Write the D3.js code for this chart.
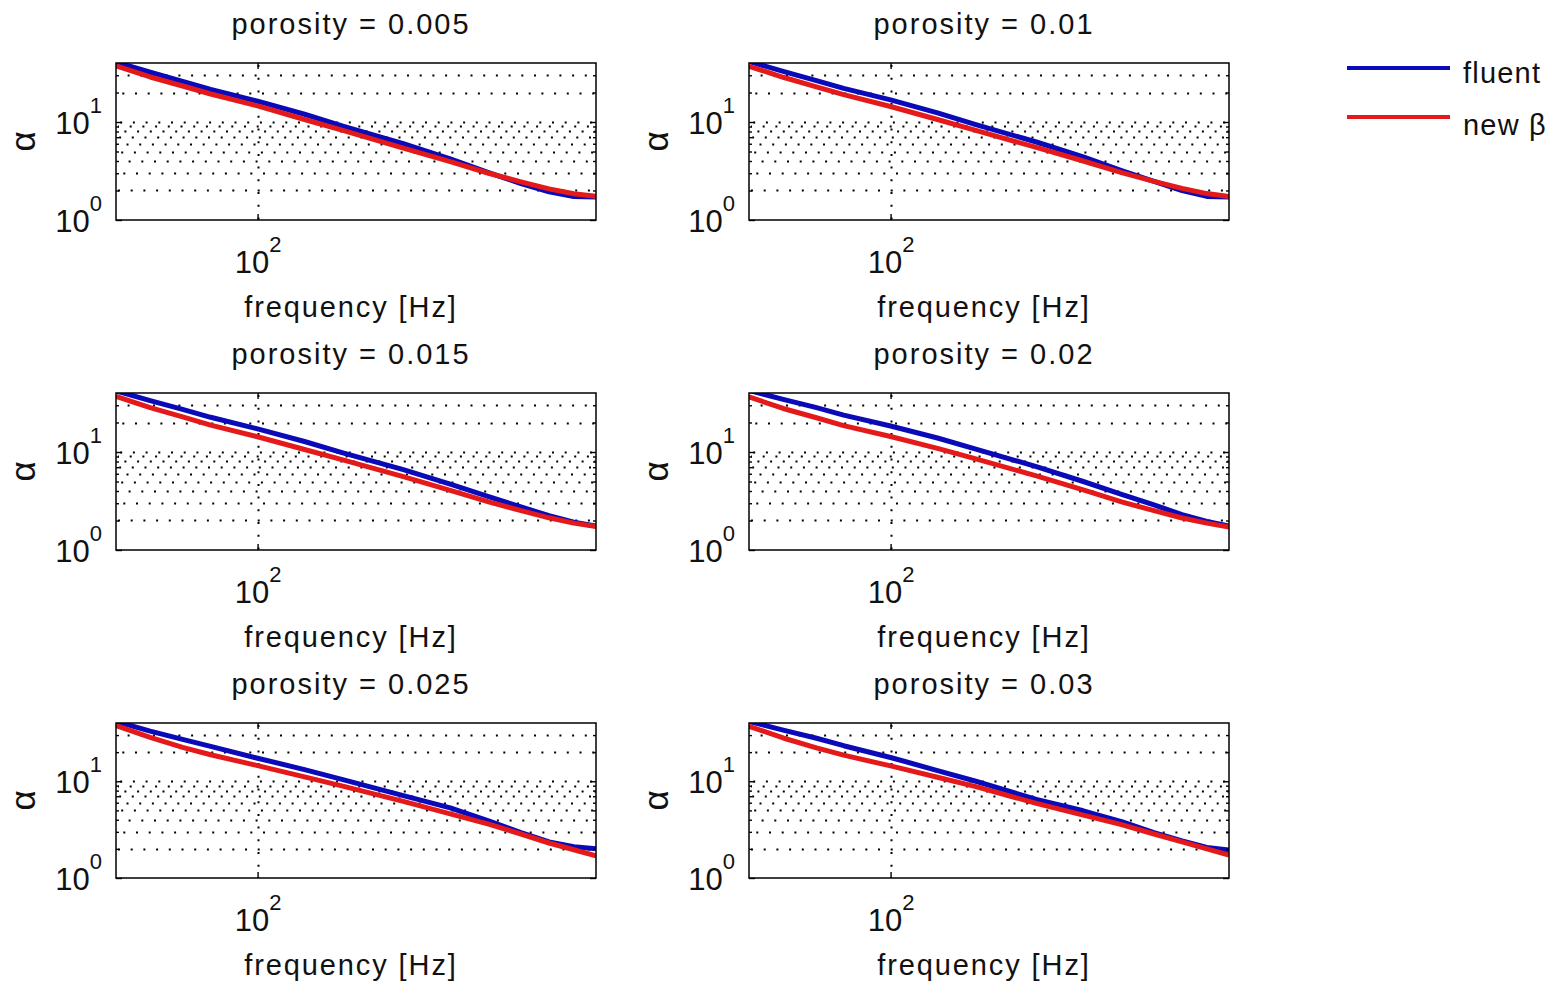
<!DOCTYPE html>
<html>
<head>
<meta charset="utf-8">
<script src="https://cdn.jsdelivr.net/npm/d3@7"></script>
<style>
  html, body { margin: 0; padding: 0; background: #fff; }
  svg { display: block; }
  text { font-family: "Liberation Sans", Arial, Helvetica, sans-serif; fill: #111; }
</style>
</head>
<body>
<svg id="fig" width="1562" height="986"></svg>
<script>
// frequency samples [Hz] shared by all panels
const frequency = [51, 60, 70, 80, 100, 125, 150, 200, 250, 300, 350, 400, 450, 500];

// absorption alpha per porosity: CFD result (fluent) and model with new beta
const fluent005  = [40.9, 32.2, 26.0, 21.5, 16.3, 12.0, 9.1, 6.0, 4.2, 3.05, 2.35, 1.94, 1.74, 1.72];
const newBeta005 = [37.3, 28.8, 23.3, 19.3, 14.6, 10.6, 8.2, 5.4, 3.95, 3.0, 2.45, 2.08, 1.85, 1.75];

const fluent010  = [41.5, 32.8, 26.6, 22.0, 16.8, 12.4, 9.4, 6.25, 4.4, 3.2, 2.48, 2.0, 1.74, 1.72];
const newBeta010 = [37.0, 28.6, 23.0, 19.0, 14.4, 10.6, 8.2, 5.5, 4.0, 3.05, 2.48, 2.1, 1.86, 1.74];

const fluent015  = [42.0, 33.5, 27.2, 22.6, 17.2, 12.8, 9.8, 6.6, 4.7, 3.5, 2.75, 2.24, 1.92, 1.76];
const newBeta015 = [37.0, 28.4, 22.8, 18.8, 14.3, 10.6, 8.3, 5.6, 4.05, 3.1, 2.52, 2.13, 1.88, 1.74];

const fluent020  = [42.5, 34.5, 28.5, 23.8, 18.4, 13.9, 10.7, 7.1, 5.0, 3.7, 2.88, 2.3, 1.96, 1.75];
const newBeta020 = [36.5, 27.8, 22.5, 18.6, 14.4, 10.9, 8.5, 5.7, 4.1, 3.1, 2.52, 2.12, 1.88, 1.72];

const fluent025  = [41.5, 33.0, 27.1, 22.9, 17.3, 13.2, 10.4, 7.1, 5.3, 3.9, 2.95, 2.36, 2.1, 2.0];
const newBeta025 = [37.5, 28.4, 22.4, 18.8, 14.5, 11.1, 8.9, 6.2, 4.6, 3.6, 2.85, 2.3, 1.96, 1.69];

const fluent030  = [41.5, 33.8, 28.0, 23.3, 17.6, 12.9, 10.0, 6.5, 4.95, 3.82, 2.95, 2.42, 2.07, 1.95];
const newBeta030 = [37.0, 28.0, 22.3, 18.6, 14.4, 11.0, 8.8, 5.9, 4.47, 3.56, 2.85, 2.36, 2.0, 1.72];

const porosity = ["0.005", "0.01", "0.015", "0.02", "0.025", "0.03"];
const fluentSeries = [fluent005, fluent010, fluent015, fluent020, fluent025, fluent030];
const newBetaSeries = [newBeta005, newBeta010, newBeta015, newBeta020, newBeta025, newBeta030];

const seriesNames = ["fluent", "new \u03B2"];
const alphaLimits = [1, 40];
const yMajorTicks = [1, 10];
const yMinorTicks = [2, 3, 4, 5, 6, 7, 8, 9, 20, 30];
const xMajorTicks = [100];

// layout
const colLeft = [116, 749];
const rowTop = [63, 393, 723];
const rowHeight = [157, 157, 155];
const axW = 480;
const colors = { fluent: "#0a0ab8", beta: "#e41a1a" };

const svg = d3.select("#fig");
svg.append("rect").attr("width", 1562).attr("height", 986).attr("fill", "#fff");

function powerLabel(sel) {
  sel.selectAll(".tick text").each(function (d) {
    const t = d3.select(this).text(null);
    t.append("tspan").text("10");
    t.append("tspan").attr("dy", -21).attr("font-size", 22).text(Math.round(Math.log10(d)));
  });
}

porosity.forEach((por, i) => {
  const col = i % 2, row = Math.floor(i / 2);
  const x0 = colLeft[col], y0 = rowTop[row], h = rowHeight[row];
  const x = d3.scaleLog().domain(d3.extent(frequency)).range([x0, x0 + axW]);
  const y = d3.scaleLog().domain(alphaLimits).range([y0 + h, y0]);
  const g = svg.append("g");

  g.append("clipPath").attr("id", "clip" + i)
    .append("rect").attr("x", x0).attr("y", y0).attr("width", axW).attr("height", h);

  // dotted grid
  const gridY = yMinorTicks.concat([10]);
  g.append("g").selectAll("line").data(gridY).join("line")
    .attr("x1", x0 + 2).attr("x2", x0 + axW)
    .attr("y1", d => Math.round(y(d)) + 0.5).attr("y2", d => Math.round(y(d)) + 0.5)
    .attr("stroke", "#000").attr("stroke-width", 2)
    .attr("stroke-dasharray", "2 10.7")
    .attr("stroke-dashoffset", (d, k) => -((k * 5.3) % 12.7));
  g.append("g").selectAll("line").data(xMajorTicks).join("line")
    .attr("x1", d => Math.round(x(d)) + 0.5).attr("x2", d => Math.round(x(d)) + 0.5)
    .attr("y1", y0 + 2).attr("y2", y0 + h)
    .attr("stroke", "#000").attr("stroke-width", 2)
    .attr("stroke-dasharray", "2 10.7");

  // data lines
  const line = d3.line().x((d, j) => x(frequency[j])).y(d => y(d));
  const lines = g.append("g").attr("clip-path", `url(#clip${i})`);
  lines.append("path").datum(fluentSeries[i]).attr("d", line)
    .attr("fill", "none").attr("stroke", colors.fluent).attr("stroke-width", 5)
    .attr("stroke-linejoin", "round");
  lines.append("path").datum(newBetaSeries[i]).attr("d", line)
    .attr("fill", "none").attr("stroke", colors.beta).attr("stroke-width", 5)
    .attr("stroke-linejoin", "round");

  // ticks (inward, all four sides)
  const styleAxis = sel => {
    sel.select(".domain").remove();
    sel.attr("font-family", null).attr("font-size", null);
    sel.selectAll(".tick line").attr("stroke", "#000").attr("stroke-width", 1.4);
  };
  const yl = g.append("g").attr("transform", `translate(${x0},0)`)
    .call(d3.axisLeft(y).tickValues(yMajorTicks).tickSizeInner(-6).tickSizeOuter(0).tickPadding(14));
  styleAxis(yl);
  yl.selectAll(".tick text").attr("dy", null).attr("y", 11).attr("font-size", 31).attr("fill", "#111");
  powerLabel(yl);

  g.append("g").attr("transform", `translate(${x0},0)`)
    .call(d3.axisLeft(y).tickValues(yMinorTicks).tickSizeInner(-3).tickSizeOuter(0).tickFormat(() => ""))
    .call(styleAxis);
  g.append("g").attr("transform", `translate(${x0 + axW},0)`)
    .call(d3.axisRight(y).tickValues(yMajorTicks).tickSizeInner(-6).tickSizeOuter(0).tickFormat(() => ""))
    .call(styleAxis);
  g.append("g").attr("transform", `translate(${x0 + axW},0)`)
    .call(d3.axisRight(y).tickValues(yMinorTicks).tickSizeInner(-3).tickSizeOuter(0).tickFormat(() => ""))
    .call(styleAxis);

  const xb = g.append("g").attr("transform", `translate(0,${y0 + h})`)
    .call(d3.axisBottom(x).tickValues(xMajorTicks).tickSizeInner(-6).tickSizeOuter(0));
  styleAxis(xb);
  xb.selectAll(".tick text").attr("dy", null).attr("y", 53).attr("font-size", 31).attr("fill", "#111");
  powerLabel(xb);
  g.append("g").attr("transform", `translate(0,${y0})`)
    .call(d3.axisTop(x).tickValues(xMajorTicks).tickSizeInner(-6).tickSizeOuter(0).tickFormat(() => ""))
    .call(styleAxis);

  // axes box
  g.append("rect").attr("x", x0).attr("y", y0).attr("width", axW).attr("height", h)
    .attr("fill", "none").attr("stroke", "#000").attr("stroke-width", 1.5);

  // title and axis labels
  g.append("text").attr("x", x0 + axW / 2 - 5).attr("y", y0 - 29)
    .attr("text-anchor", "middle").attr("font-size", 29).attr("letter-spacing", 2)
    .text(`porosity = ${por}`);
  g.append("text").attr("x", x0 + axW / 2 - 5).attr("y", y0 + h + 97)
    .attr("text-anchor", "middle").attr("font-size", 29).attr("letter-spacing", 1.9)
    .text("frequency [Hz]");
  g.append("text")
    .attr("transform", `translate(${x0 - 81},${y0 + h / 2}) rotate(-90)`)
    .attr("text-anchor", "middle").attr("font-size", 35)
    .text("\u03B1");
});

// legend (no frame)
const legend = svg.append("g");
const legendColors = [colors.fluent, colors.beta];
const legendLineY = [68, 117];
const legendTextY = [83, 135];
seriesNames.forEach((name, k) => {
  legend.append("line").attr("x1", 1347).attr("x2", 1450)
    .attr("y1", legendLineY[k]).attr("y2", legendLineY[k])
    .attr("stroke", legendColors[k]).attr("stroke-width", 3.8);
  legend.append("text").attr("x", 1463).attr("y", legendTextY[k])
    .attr("font-size", 29).attr("letter-spacing", 1.2).text(name);
});
</script>
</body>
</html>
